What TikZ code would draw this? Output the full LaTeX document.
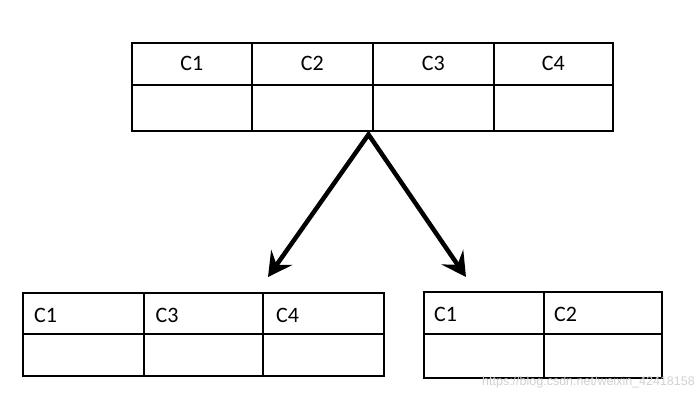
\documentclass[tikz,border=0pt]{standalone}
\usepackage{fontspec}
\setmainfont{Carlito}
\newfontfamily\wmfont{Liberation Sans}
\usetikzlibrary{arrows.meta}
\begin{document}
\begin{tikzpicture}[x=1pt,y=-1pt,
  tbl/.style={draw, line width=1.5pt, inner sep=0pt, anchor=north west},
  hdr/.style={font=\fontsize{22}{24}\selectfont, inner sep=0pt},
  flow/.style={line width=4.5pt, line join=miter,
    {Stealth[length=24pt,width=26pt,inset=9pt]}-{Stealth[length=24pt,width=26pt,inset=9pt]}},
  wm/.style={font=\wmfont\fontsize{12.5}{14}\selectfont, text=black!18, inner sep=0pt}]
\useasboundingbox (0,0) rectangle (700,400);
% top table
\node[tbl, minimum width=120, minimum height=42] (t11) at (131,42) {};
\node[tbl, minimum width=121, minimum height=42] (t12) at (251,42) {};
\node[tbl, minimum width=121, minimum height=42] (t13) at (372,42) {};
\node[tbl, minimum width=119, minimum height=42] (t14) at (493,42) {};
\node[tbl, minimum width=120, minimum height=46] (t21) at (131,84) {};
\node[tbl, minimum width=121, minimum height=46] (t22) at (251,84) {};
\node[tbl, minimum width=121, minimum height=46] (t23) at (372,84) {};
\node[tbl, minimum width=119, minimum height=46] (t24) at (493,84) {};
\node[hdr] (tc1) at (t11.center) {C1};
\node[hdr] (tc2) at (t12.center) {C2};
\node[hdr] (tc3) at (t13.center) {C3};
\node[hdr] (tc4) at (t14.center) {C4};
% bottom-left table
\node[tbl, minimum width=121, minimum height=41] (l11) at (22,292) {};
\node[tbl, minimum width=119, minimum height=41] (l12) at (143,292) {};
\node[tbl, minimum width=121, minimum height=41] (l13) at (262,292) {};
\node[tbl, minimum width=121, minimum height=42] (l21) at (22,333) {};
\node[tbl, minimum width=119, minimum height=42] (l22) at (143,333) {};
\node[tbl, minimum width=121, minimum height=42] (l23) at (262,333) {};
\node[hdr, anchor=west] (lc1) at ([xshift=12pt,yshift=-2pt]l11.west) {C1};
\node[hdr, anchor=west] (lc3) at ([xshift=12.5pt,yshift=-2pt]l12.west) {C3};
\node[hdr, anchor=west] (lc4) at ([xshift=14pt,yshift=-2pt]l13.west) {C4};
% bottom-right table
\node[tbl, minimum width=120, minimum height=42] (r11) at (423,291) {};
\node[tbl, minimum width=118, minimum height=42] (r12) at (543,291) {};
\node[tbl, minimum width=120, minimum height=44] (r21) at (423,333) {};
\node[tbl, minimum width=118, minimum height=44] (r22) at (543,333) {};
\node[hdr, anchor=west] (rc1) at ([xshift=11pt,yshift=-2pt]r11.west) {C1};
\node[hdr, anchor=west] (rc2) at ([xshift=11pt,yshift=-2pt]r12.west) {C2};
% arrows
\coordinate (apex) at ([xshift=-5pt,yshift=-3pt]t22.south east);
\coordinate (tipL) at (268,277);
\coordinate (tipR) at (466,277);
\draw[flow] (tipL) -- (apex) -- (tipR);
% watermark
\node[wm, anchor=east] (wmark) at (695,382) {https://blog.csdn.net/weixin\_42418158};
\end{tikzpicture}
\end{document}
